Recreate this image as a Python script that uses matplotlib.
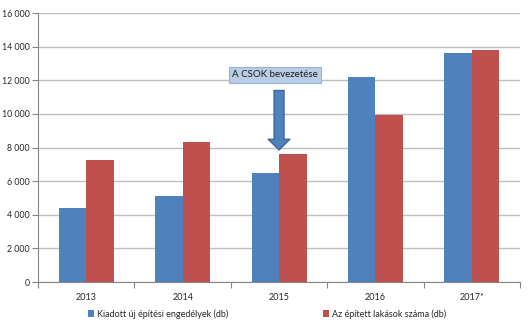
import matplotlib
matplotlib.use("Agg")
import matplotlib.pyplot as plt
import numpy as np
from matplotlib.patches import FancyArrow

years = ["2013", "2014", "2015", "2016", "2017*"]
permits = [4430, 5100, 6500, 12200, 13630]
built = [7280, 8330, 7610, 9950, 13780]
yticks = [0, 2000, 4000, 6000, 8000, 10000, 12000, 14000, 16000]
lab_permits = "Kiadott új építési engedélyek (db)"
lab_built = "Az épített lakások száma (db)"
note = "A CSOK bevezetése"

BLUE, RED = "#4F81BD", "#C0504D"
GRID = "#BFBFBF"
plt.rcParams["font.family"] = ["Lato", "DejaVu Sans"]

fig = plt.figure(figsize=(5.28, 3.24), dpi=100, facecolor="white")
ax = fig.add_axes([0.072, 0.1296, 0.913, 0.830])

x = np.arange(len(years))
w = 0.285
ax.bar(x - w / 2, permits, w, color=BLUE, label=lab_permits, zorder=3)
ax.bar(x + w / 2, built, w, color=RED, label=lab_built, zorder=3)

ax.set_xlim(-0.5, len(years) - 0.5)
ax.set_ylim(0, 16000)
ax.set_yticks(yticks)
ax.set_yticklabels([f"{v:,}".replace(",", " ") for v in yticks], fontsize=6.3, color="#262626")
ax.set_xticks(x)
ax.set_xticklabels(years, fontsize=6.5, color="#262626")
ax.set_xticks(np.arange(len(years) + 1) - 0.5, minor=True)
ax.tick_params(axis="x", which="major", length=0, pad=8)
ax.tick_params(axis="x", which="minor", length=4, color="#868686", width=0.8)
ax.tick_params(axis="y", length=4, color="#868686", width=0.8, pad=2)
ax.yaxis.grid(True, color=GRID, lw=1.0, zorder=0)
for s in ("top", "right"):
    ax.spines[s].set_visible(False)
for s in ("left", "bottom"):
    ax.spines[s].set_color("#868686")
    ax.spines[s].set_linewidth(0.8)

# CSOK arrow + label box over 2015
ax.add_patch(FancyArrow(2, 11400, 0, -3550, width=0.105, head_width=0.23,
                        head_length=650, length_includes_head=True,
                        fc=BLUE, ec="#385D8A", lw=0.8, zorder=4))
ax.text(1.96, 12330, note, fontsize=7, ha="center", va="center", color="#1a1a1a", zorder=5,
        bbox=dict(boxstyle="square,pad=0.35", fc="#B9CDE5", ec="#95B3D7", lw=0.8))

fig.legend(loc="center", bbox_to_anchor=(0.506, 0.031), ncol=2, frameon=False,
           fontsize=6.5, handlelength=0.7, handleheight=0.7, handletextpad=0.3,
           columnspacing=10.5, labelcolor="#262626")

fig.savefig("out.png", dpi=100, facecolor="white")
